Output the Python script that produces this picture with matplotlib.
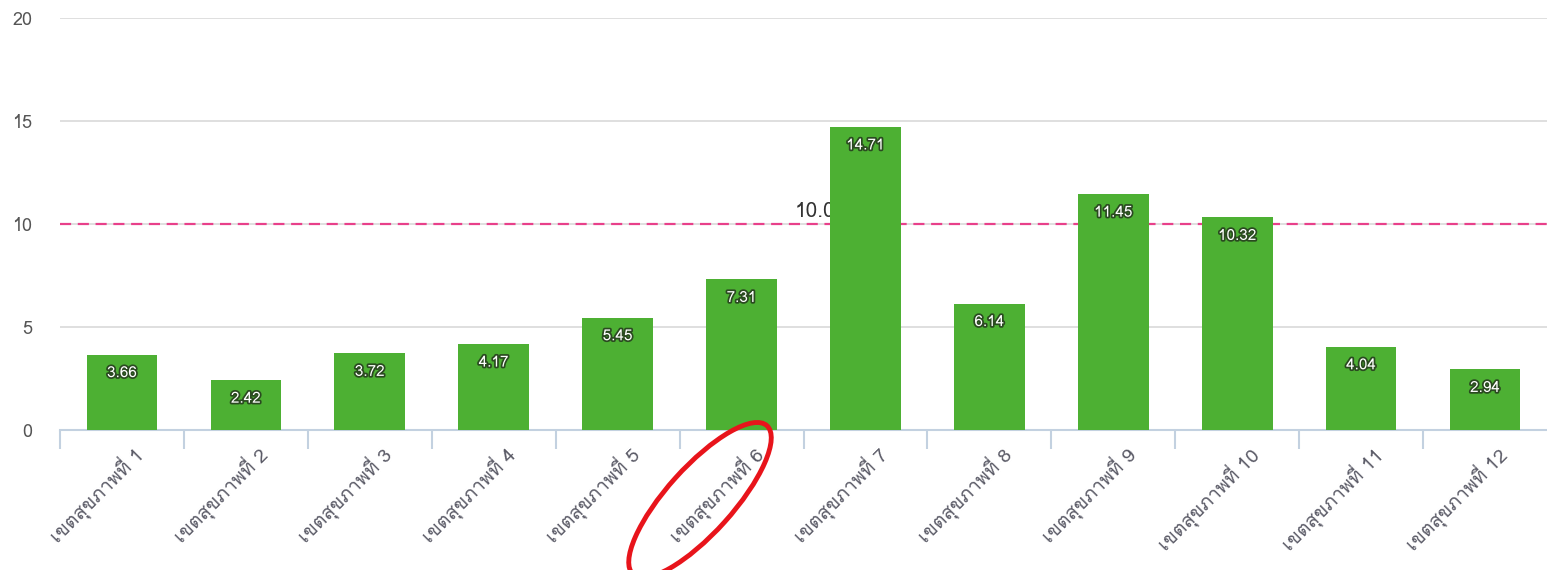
import matplotlib
matplotlib.use("Agg")
import matplotlib.pyplot as plt
from matplotlib import font_manager
from matplotlib.patches import Ellipse
from matplotlib.transforms import IdentityTransform
import matplotlib.patheffects as pe

# data
regions = ["เขตสุขภาพที่ %d" % i for i in range(1, 13)]
values = [3.66, 2.42, 3.72, 4.17, 5.45, 7.31, 14.71, 6.14, 11.45, 10.32, 4.04, 2.94]
target = 10.0

# pick a tahoma-like thai font if there is one
installed = set(f.name for f in font_manager.fontManager.ttflist)
thai = [n for n in ["Tahoma", "Waree", "Loma", "Garuda", "Noto Sans Thai"] if n in installed]
plt.rcParams["font.family"] = thai[:1] + ["DejaVu Sans"]

fig = plt.figure(figsize=(15.47, 5.70), dpi=100)
ax = fig.add_axes([60/1547, 140/570, 1487/1547, 412/570])

x = range(len(values))
ax.bar(x, values, width=0.57, color="#4DB033", zorder=3)
ax.set_xlim(-0.5, 11.5)
ax.set_ylim(0, 20)

for i, v in enumerate(values):
    ax.text(i, v - 0.9, "%.2f" % v, ha="center", va="center", color="white",
            fontsize=11, zorder=4,
            path_effects=[pe.withStroke(linewidth=2.5, foreground="#2a4a20")])

ax.axhline(target, color="#E8408A", lw=1.6, ls=(0, (5, 3)), zorder=2)
ax.text(5.43, target + 0.15, "%.1f" % target, ha="left", va="bottom",
        fontsize=15, color="#333333", zorder=2)

ax.set_yticks([0, 5, 10, 15, 20])
ax.yaxis.grid(True, color="#D9D9D9", lw=1.2, zorder=0)
ax.tick_params(axis="y", length=0, pad=20, labelsize=13, labelcolor="#555555")
for s in ["top", "right", "left"]:
    ax.spines[s].set_visible(False)
ax.spines["bottom"].set_color("#C3D1E0")
ax.spines["bottom"].set_linewidth(1.5)

ax.set_xticks([i - 0.5 for i in range(12)], minor=False)
ax.set_xticklabels([])
ax.tick_params(axis="x", which="major", length=14, width=1.5, color="#C3D1E0", direction="out")
ax.set_xticks([i + 0.08 for i in x], minor=True)
ax.set_xticklabels(regions, minor=True, rotation=45, ha="right", va="top",
                   rotation_mode="anchor", fontsize=14, color="#5a5a66")
ax.tick_params(axis="x", which="minor", length=0, pad=9)

# hand drawn red circle round region 6
fig.patches.append(Ellipse((700, 70), 200, 66, angle=48, fill=False,
                           edgecolor="#E8141B", lw=3.5, transform=IdentityTransform()))

fig.savefig("out.png", dpi=100)
